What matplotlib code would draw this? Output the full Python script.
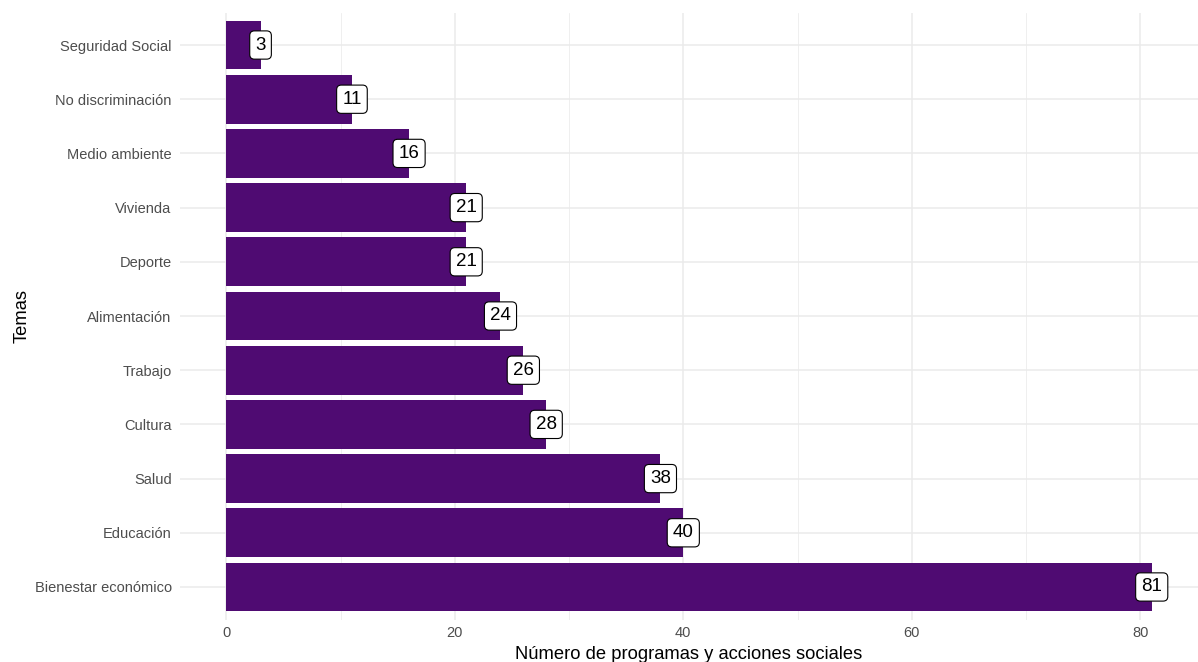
import matplotlib
matplotlib.use("Agg")
import matplotlib.pyplot as plt
from matplotlib.ticker import MultipleLocator

plt.rcParams['font.family'] = ['Liberation Sans', 'DejaVu Sans']

temas = ["Bienestar económico", "Educación", "Salud", "Cultura", "Trabajo",
         "Alimentación", "Deporte", "Vivienda", "Medio ambiente",
         "No discriminación", "Seguridad Social"]
valores = [81, 40, 38, 28, 26, 24, 21, 21, 16, 11, 3]

fig = plt.figure(figsize=(11.98, 6.62), dpi=100)
ax = fig.add_axes([180 / 1198, 42.5 / 662, 1018 / 1198, 607 / 662])

pos = list(range(len(temas)))
ax.barh(pos, valores, height=0.9, color="#4f0b72", zorder=2)

for p, v in zip(pos, valores):
    ax.text(v, p, str(v), ha="center", va="center", fontsize=13.5, color="black", zorder=3,
            bbox=dict(boxstyle="round,pad=0.3,rounding_size=0.25", fc="white", ec="black", lw=0.8))

ax.set_xlim(-81 * 0.05, 81 * 1.05)
ax.set_ylim(-0.6, len(temas) - 0.4)
ax.set_yticks(pos)
ax.set_yticklabels(temas)
ax.xaxis.set_major_locator(MultipleLocator(20))
ax.xaxis.set_minor_locator(MultipleLocator(10))

ax.grid(True, which="major", color="#ebebeb", lw=1.1, zorder=0)
ax.grid(True, which="minor", axis="x", color="#ebebeb", lw=0.55, zorder=0)
ax.set_axisbelow(True)
for s in ax.spines.values():
    s.set_visible(False)
ax.tick_params(which="both", length=0, labelsize=10.5, labelcolor="#4d4d4d", pad=5)
ax.tick_params(axis="y", pad=6)

ax.set_xlabel("Número de programas y acciones sociales", fontsize=13.2, labelpad=4)
ax.set_ylabel("Temas", fontsize=13.2, labelpad=3)

fig.savefig("out.png", dpi=100)
